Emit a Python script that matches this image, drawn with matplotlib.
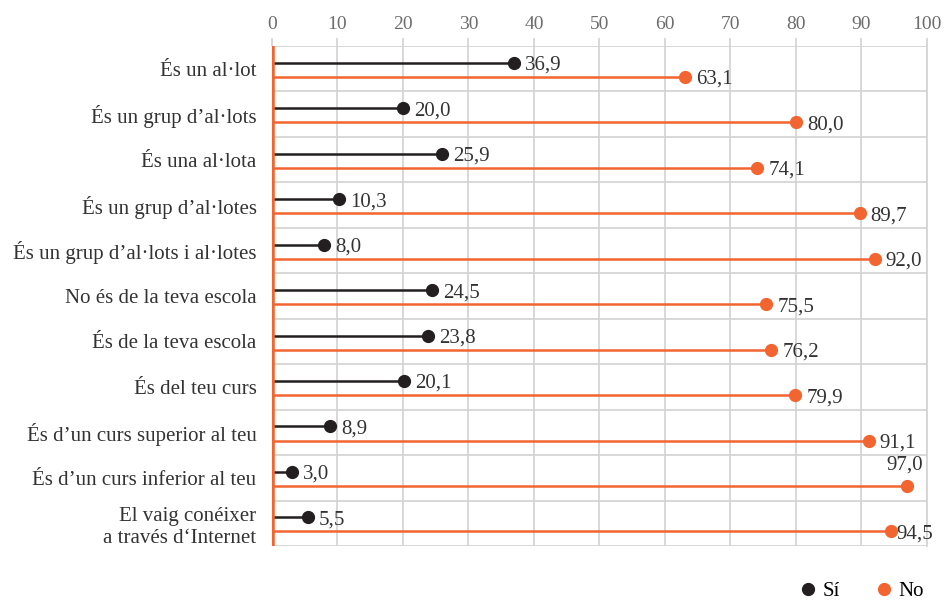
import matplotlib.pyplot as plt
from matplotlib.lines import Line2D

# dades
categories = [
    "És un al·lot",
    "És un grup d’al·lots",
    "És una al·lota",
    "És un grup d’al·lotes",
    "És un grup d’al·lots i al·lotes",
    "No és de la teva escola",
    "És de la teva escola",
    "És del teu curs",
    "És d’un curs superior al teu",
    "És d’un curs inferior al teu",
    "El vaig conéixer\na través d‘Internet",
]
si_vals = [36.9, 20.0, 25.9, 10.3, 8.0, 24.5, 23.8, 20.1, 8.9, 3.0, 5.5]
no_vals = [63.1, 80.0, 74.1, 89.7, 92.0, 75.5, 76.2, 79.9, 91.1, 97.0, 94.5]
x_ticks = [0, 10, 20, 30, 40, 50, 60, 70, 80, 90, 100]

BLACK = "#231f20"
ORANGE = "#f26531"
GRID = "#d2d2d2"
TEXT = "#333333"

plt.rcParams['font.family'] = ['Liberation Serif', 'DejaVu Serif']

fig = plt.figure(figsize=(9.44, 6.04), dpi=100)
ax = fig.add_axes([0.288, 0.096, 0.694, 0.828])

n = len(categories)
for i in range(n):
    y_si = i + 0.37
    y_no = i + 0.68
    ax.plot([0, si_vals[i]], [y_si, y_si], color=BLACK, lw=1.8, solid_capstyle='butt', zorder=3)
    ax.plot(si_vals[i], y_si, 'o', color=BLACK, ms=8.5, zorder=4)
    ax.plot([0, no_vals[i]], [y_no, y_no], color=ORANGE, lw=1.8, solid_capstyle='butt', zorder=3)
    ax.plot(no_vals[i], y_no, 'o', color=ORANGE, ms=8.5, zorder=4)

    lab_si = f"{si_vals[i]:.1f}".replace('.', ',')
    lab_no = f"{no_vals[i]:.1f}".replace('.', ',')
    ax.annotate(lab_si, (si_vals[i], y_si), xytext=(8, 0), textcoords='offset points',
                va='center_baseline', ha='left', fontsize=15, color=TEXT)
    if no_vals[i] > 95:
        ax.annotate(lab_no, (no_vals[i], y_no), xytext=(-2, 8), textcoords='offset points',
                    va='bottom', ha='center', fontsize=15, color=TEXT)
    else:
        off = 4 if no_vals[i] > 93 else 8
        ax.annotate(lab_no, (no_vals[i], y_no), xytext=(off, 0), textcoords='offset points',
                    va='center_baseline', ha='left', fontsize=15, color=TEXT)

# separadors horitzontals
for i in range(n + 1):
    ax.axhline(i, color=GRID, lw=1.2, zorder=1)

ax.axvline(0, color=ORANGE, lw=4, zorder=5)

ax.set_xlim(0, 100)
ax.set_ylim(n, 0)
ax.set_xticks(x_ticks)
ax.xaxis.tick_top()
ax.tick_params(axis='x', colors=GRID, labelcolor='#6d6d6d', labelsize=14, length=6, width=1.2, pad=3)
ax.grid(axis='x', color=GRID, lw=1.2, zorder=0)

ax.set_yticks([i + 0.5 for i in range(n)])
ax.set_yticklabels(categories, fontsize=15, color=TEXT, linespacing=1.25)
ax.tick_params(axis='y', length=0, pad=11)

for s in ['left', 'bottom', 'top']:
    ax.spines[s].set_visible(False)
ax.spines['right'].set_color(GRID)
ax.spines['right'].set_linewidth(1.2)

handles = [
    Line2D([], [], marker='o', color=BLACK, ls='none', ms=8.5, label='Sí'),
    Line2D([], [], marker='o', color=ORANGE, ls='none', ms=8.5, label='No'),
]
fig.legend(handles=handles, loc='center right', bbox_to_anchor=(0.99, 13 / 604), ncol=2,
           frameon=False, fontsize=15, handletextpad=0.2, columnspacing=1.6,
           handlelength=1.0, borderpad=0)

fig.savefig('out.png', dpi=100, facecolor='white')
